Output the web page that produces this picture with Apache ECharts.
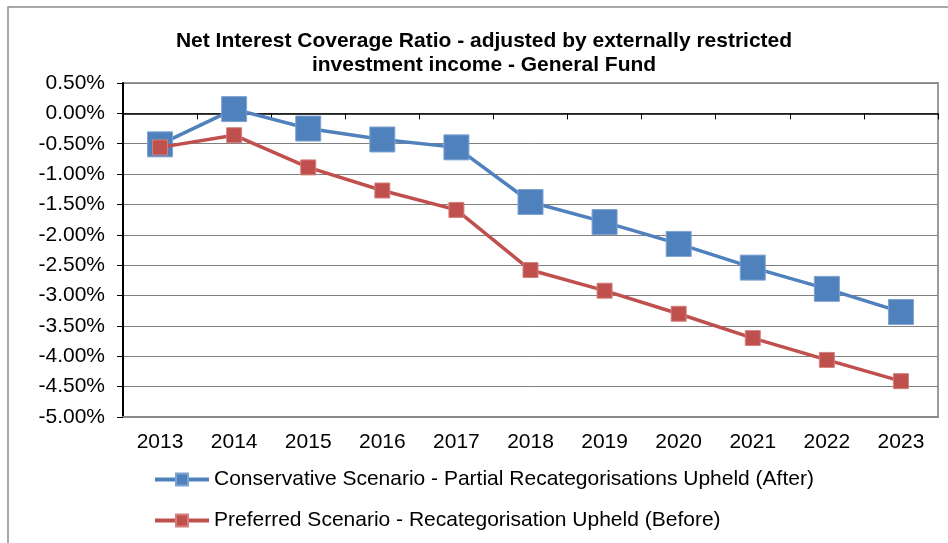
<!DOCTYPE html>
<html>
<head>
<meta charset="utf-8">
<script src="https://cdn.jsdelivr.net/npm/echarts@6/dist/echarts.min.js"></script>
<style>
  html, body { margin: 0; padding: 0; background: #fff; }
  #chart { width: 948px; height: 543px; }
</style>
</head>
<body>
<div id="chart"></div>
<script>
// Financial years on the category axis
const years = ['2013', '2014', '2015', '2016', '2017', '2018', '2019', '2020', '2021', '2022', '2023'];

// Net interest coverage ratio, in percent
const conservative = [-0.51, 0.07, -0.25, -0.43, -0.56, -1.46, -1.79, -2.15, -2.54, -2.89, -3.27];
const preferred = [-0.56, -0.36, -0.89, -1.27, -1.59, -2.58, -2.92, -3.30, -3.70, -4.06, -4.41];

const seriesNames = [
  'Conservative Scenario - Partial Recategorisations Upheld (After)',
  'Preferred Scenario - Recategorisation Upheld (Before)'
];

const titleText = 'Net Interest Coverage Ratio - adjusted by externally restricted\ninvestment income - General Fund';

const FONT = "'Liberation Sans', Arial, sans-serif";
const BLUE = '#4F81BD';
const RED = '#C0504D';

const chart = echarts.init(document.getElementById('chart'), null, { renderer: 'canvas' });

chart.setOption({
  animation: false,
  backgroundColor: '#fff',
  textStyle: { fontFamily: FONT },
  graphic: [{
    type: 'rect',
    shape: { x: 8, y: 7, width: 960, height: 560 },
    style: { fill: 'none', stroke: '#8c8c8c', lineWidth: 1.5 },
    silent: true,
    z: -10
  }],
  title: {
    text: titleText,
    left: 484,
    top: 29,
    padding: 0,
    textAlign: 'center',
    textStyle: {
      fontFamily: FONT,
      fontSize: 21,
      fontWeight: 'bold',
      color: '#000',
      lineHeight: 24
    }
  },
  legend: {
    orient: 'vertical',
    left: 153,
    top: 469,
    padding: 0,
    itemWidth: 54,
    itemHeight: 15,
    itemGap: 20,
    lineStyle: { width: 4 },
    textStyle: { fontFamily: FONT, fontSize: 21, color: '#000' },
    data: seriesNames
  },
  grid: {
    left: 123,
    right: 10,
    top: 83,
    bottom: 126,
    show: true,
    borderColor: '#9a9a9a',
    borderWidth: 2,
    containLabel: false
  },
  xAxis: [
    {
      type: 'category',
      data: years,
      position: 'bottom',
      boundaryGap: true,
      axisLine: { onZero: false, show: true, lineStyle: { color: '#8a8a8a', width: 2 } },
      axisTick: { show: false },
      axisLabel: { fontFamily: FONT, fontSize: 21, color: '#000', margin: 15 },
      splitLine: { show: false }
    },
    {
      type: 'category',
      data: years,
      position: 'bottom',
      boundaryGap: true,
      axisLine: { onZero: true, show: true, lineStyle: { color: '#000', width: 1.5 } },
      axisTick: { show: true, length: 6, lineStyle: { color: '#000', width: 1 } },
      axisLabel: { show: false },
      splitLine: { show: false }
    }
  ],
  yAxis: {
    type: 'value',
    min: -5,
    max: 0.5,
    interval: 0.5,
    axisLine: { show: true, lineStyle: { color: '#000', width: 2 } },
    axisTick: { show: true, length: 6, lineStyle: { color: '#000', width: 1 } },
    axisLabel: {
      fontFamily: FONT,
      fontSize: 21,
      color: '#000',
      margin: 18,
      formatter: v => v.toFixed(2) + '%'
    },
    splitLine: { show: true, lineStyle: { color: '#808080', width: 1 } }
  },
  series: [
    {
      name: seriesNames[0],
      type: 'line',
      xAxisIndex: 0,
      data: conservative,
      symbol: 'rect',
      symbolSize: 25,
      lineStyle: { color: BLUE, width: 3.5 },
      itemStyle: { color: BLUE, borderColor: '#7fa3d1', borderWidth: 1 },
      z: 3
    },
    {
      name: seriesNames[1],
      type: 'line',
      xAxisIndex: 0,
      data: preferred,
      symbol: 'rect',
      symbolSize: 15,
      lineStyle: { color: RED, width: 3.5 },
      itemStyle: { color: RED, borderColor: '#d3807e', borderWidth: 1 },
      z: 4
    }
  ]
});
</script>
</body>
</html>
